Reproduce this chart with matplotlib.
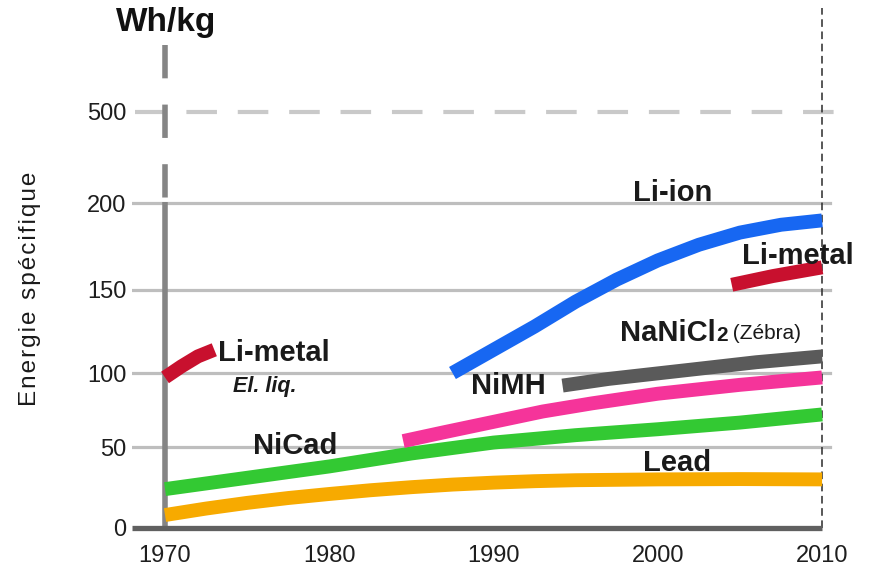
import numpy as np
import matplotlib
matplotlib.use("Agg")
import matplotlib.pyplot as plt

plt.rcParams['font.family'] = ['Liberation Sans', 'DejaVu Sans']

# data (years, Wh/kg)
lead_x = [1970, 1972.5, 1975, 1977.5, 1980, 1982.5, 1985, 1987.5, 1990,
          1992.5, 1995, 2000, 2005, 2010]
lead_y = [8, 12, 15.5, 18.5, 21, 23.3, 25.2, 26.8, 28, 28.9, 29.5, 30, 30.2, 30]

nicad_x = [1970, 1975, 1980, 1985, 1990, 1995, 2000, 2005, 2010]
nicad_y = [24, 31, 38, 46, 53, 58, 62, 66.5, 72]

nimh_x = [1984.5, 1987, 1990, 1993, 1996, 2000, 2005, 2010]
nimh_y = [54, 60, 67, 74, 79.5, 86, 92, 97]

zebra_x = [1994.2, 1997, 2002, 2006, 2010]
zebra_y = [91.5, 96, 102, 106.5, 110]

liion_x = [1987.5, 1990, 1992.5, 1995, 1997.5, 2000, 2002.5, 2005, 2007.5, 2010]
liion_y = [100, 114, 128, 143, 156, 167, 176, 183, 187.5, 190]

limetal_x = [2004.5, 2007, 2010]
limetal_y = [153, 158, 163]

limetal_old_x = [1970, 1971, 1972, 1973]
limetal_old_y = [97, 104, 110, 114]

y_ticks = [0, 50, 100, 150, 200, 500]
x_ticks = [1970, 1980, 1990, 2000, 2010]

# broken y axis: value -> height in px above the zero line
YV = [-40, 0, 50, 100, 150, 200, 500, 1500]
YP = [-64.8, 0, 81, 155, 238, 325, 416, 604]


def fwd(v):
    return np.interp(v, YV, YP)


def inv(p):
    return np.interp(p, YP, YV)


fig = plt.figure(figsize=(8.7, 5.79), dpi=100)
ax = fig.add_axes([132 / 870, 51 / 579, 718 / 870, 528 / 579])
ax.set_yscale('function', functions=(fwd, inv))
ax.set_xlim(1967.99, 2011.70)
ytop = float(inv(528))
ax.set_ylim(0, ytop)

for s in ax.spines.values():
    s.set_visible(False)

ax.set_yticks(y_ticks)
ax.set_yticklabels([str(t) for t in y_ticks])
ax.set_xticks(x_ticks)
ax.set_xticklabels([str(t) for t in x_ticks])
ax.tick_params(axis='both', length=0, labelsize=17, colors='#1e1e1e')
ax.tick_params(axis='y', pad=4)
ax.tick_params(axis='x', pad=12)

# grid lines
for t in [50, 100, 150, 200]:
    ax.plot([1968.05, 2010.5], [t, t], color='#bebebe', lw=2.3, zorder=1)
ax.plot([1968.2, 2011.4], [500, 500], color='#c9c9c9', lw=3,
        linestyle=(0, (22 / 3, 15 / 3)), zorder=1)

# vertical axis at 1970 (dashed above the break)
ax.plot([1970, 1970], [0, 203], color='#858585', lw=4, zorder=2,
        solid_capstyle='butt')
ax.plot([1970, 1970], [inv(483), 200], color='#858585', lw=4, zorder=2,
        linestyle=(0, (33 / 5.5, 26 / 5.5)), dash_capstyle='butt')

# x axis line
ax.plot([1968, 2010], [0, 0], color='#606060', lw=3.8, zorder=3,
        solid_capstyle='butt', clip_on=False)

# dotted 2010 marker
ax.plot([2010, 2010], [0, inv(520)], color='#2a2a2a', lw=1.1,
        linestyle=(0, (5, 3)), zorder=2, clip_on=False)

lw = 10
series = [
    (lead_x, lead_y, '#f7aa00'),
    (nicad_x, nicad_y, '#33c933'),
    (nimh_x, nimh_y, '#f5349a'),
    (zebra_x, zebra_y, '#5a5a5a'),
    (liion_x, liion_y, '#1767f2'),
    (limetal_x, limetal_y, '#c8102e'),
    (limetal_old_x, limetal_old_y, '#c8102e'),
]
for xs, ys, c in series:
    ax.plot(xs, ys, color=c, lw=lw, solid_capstyle='butt',
            solid_joinstyle='round', zorder=4, clip_on=False)

lab = dict(fontsize=21, fontweight='bold', color='#1a1a1a', zorder=5)
ax.text(2000.9, 233, 'Li-ion', ha='center', va='center', **lab)
ax.text(2008.5, 169.5, 'Li-metal', ha='center', va='center', **lab)
ax.text(1990.9, 91, 'NiMH', ha='center', va='center', **lab)
ax.text(1973.2, 112, 'Li-metal', ha='left', va='center', **lab)
ax.text(1977.9, 51, 'NiCad', ha='center', va='center', **lab)
ax.text(2001.2, 40, 'Lead', ha='center', va='center', **lab)
ax.text(1976.1, 91, 'El. liq.', ha='center', va='center', fontsize=15.5,
        fontweight='bold', fontstyle='italic', color='#1a1a1a', zorder=5)

t1 = ax.text(1997.7, 124, 'NaNiCl', ha='left', va='center', **lab)
t2 = ax.annotate('2', xy=(1, 0.08), xycoords=t1, ha='left', va='bottom',
                 fontsize=15, fontweight='bold', color='#1a1a1a')
ax.annotate(' (Zébra)', xy=(1, 0.12), xycoords=t2, ha='left', va='bottom',
            fontsize=15, color='#1a1a1a')

fig.text(166 / 870, 1 - 23 / 579, 'Wh/kg', ha='center', va='center',
         fontsize=24, fontweight='bold', color='#111111')
ylab = ' \u2009'.join('\u200a'.join(w) for w in 'Energie spécifique'.split())
fig.text(30 / 870, 1 - 289 / 579, ylab, rotation=90,
         ha='center', va='center', fontsize=17.5, color='#1a1a1a')

fig.savefig('out.png', dpi=100)
